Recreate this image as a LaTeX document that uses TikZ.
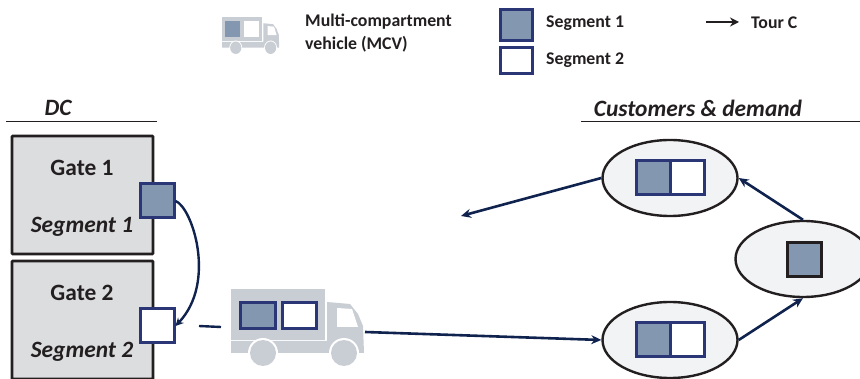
\documentclass[tikz,border=0pt]{standalone}
\usepackage{fontspec}
\setmainfont{Carlito}
\usetikzlibrary{arrows.meta,shapes.geometric}
\definecolor{navy}{HTML}{10234F}
\definecolor{segb}{HTML}{2A3675}
\definecolor{segf}{HTML}{8497B0}
\definecolor{ink}{HTML}{231F20}
\definecolor{gatef}{HTML}{DCDDDF}
\definecolor{ellf}{HTML}{F2F3F5}
\definecolor{truckc}{HTML}{C9CDD4}
\tikzset{
  gatebox/.style={draw=ink,fill=gatef,line width=2.6pt,minimum width=141pt,minimum height=118pt,inner sep=0,rounded corners=0.6pt},
  cust/.style={ellipse,draw=ink,fill=ellf,line width=2.4pt,minimum width=135pt,minimum height=76pt,inner sep=0},
  segone/.style={draw=segb,fill=segf,line width=3pt,minimum width=34pt,minimum height=34pt,inner sep=0},
  segtwo/.style={draw=segb,fill=white,line width=3pt,minimum width=34pt,minimum height=34pt,inner sep=0},
  custone/.style={draw=ink,fill=segf,line width=3pt,minimum width=34pt,minimum height=34pt,inner sep=0},
  tour/.style={draw=navy,line width=2.6pt,-{Stealth[length=10pt,width=9pt]}},
  big/.style={font=\fontsize{23.4}{28}\selectfont\bfseries,text=ink,inner sep=0},
  head/.style={font=\fontsize{23.4}{28}\selectfont\bfseries\itshape,text=ink,inner sep=0},
  small/.style={font=\fontsize{17.8}{22}\selectfont\bfseries,text=ink,inner sep=0,anchor=west},
  rulel/.style={draw=ink,line width=1pt},
}
% truck drawn in a 133 x 77 box, origin at its top left
\newcommand{\trucksil}{%
  \fill[truckc] (0,0) rectangle (94,51);
  \fill[truckc] (96,13) -- (119,15) -- (127,25) -- (132,37) -- (133,64) -- (0,64) -- (0,52) -- (96,52) -- cycle;
  \fill[white] (106,19) -- (121,20) -- (127,38) -- (106,38) -- cycle;
  \fill[white] (32,64) circle (15) (113,64) circle (15);
  \fill[truckc] (32,64) circle (13) (113,64) circle (13);
}
\begin{document}
\begin{tikzpicture}[x=1pt,y=-1pt]
\clip (0,0) rectangle (860,379);
% legend
\begin{scope}[shift={(222,17)},x=0.43pt,y=-0.48pt]
  \trucksil
  \fill[segf] (6,8) -- (41,8) -- (41,42) -- (6,42) -- cycle;
  \fill[white] (52,8) -- (87,8) -- (87,42) -- (52,42) -- cycle;
\end{scope}
\node[small] (lmcvA) at (305,22) {Multi-compartment};
\node[small] (lmcvB) at (305,44) {vehicle (MCV)};
\node[segone,minimum width=32pt,minimum height=31pt] (lone) at (516,25) {};
\node[segtwo,minimum width=32pt,minimum height=26pt] (ltwo) at (516,61) {};
\node[small] (lonet) at (546,23) {Segment 1};
\node[small] (ltwot) at (546,60) {Segment 2};
\coordinate (tourA) at (706,22);
\coordinate (tourB) at (739,22);
\draw[draw=ink,line width=2.6pt,-{Stealth[length=9pt,width=9pt]}] (tourA) -- (tourB);
\node[small] (tourt) at (751,23) {Tour C};
% headings
\node[head] (dc) at (58,108) {DC};
\node[head] (cd) at (698,108) {Customers \& demand};
\coordinate (rA) at (6,122); \coordinate (rB) at (157,122);
\coordinate (rC) at (581,122); \coordinate (rD) at (860,122);
\draw[rulel] (rA) -- (rB);
\draw[rulel] (rC) -- (rD);
% gates
\node[gatebox] (g1) at (82.5,195) {};
\node[gatebox] (g2) at (82.5,320) {};
\node[big] (g1t) at (82,168) {Gate 1};
\node[head] (g1s) at (82,227) {Segment 1};
\node[big] (g2t) at (82,293) {Gate 2};
\node[head] (g2s) at (82,352) {Segment 2};
\node[segone] (s1) at (157,201) {};
\node[segtwo] (s2) at (157,326) {};
\draw[draw=navy,line width=2.4pt,-{Stealth[length=8pt,width=8pt]}] (s1.east) .. controls (192,207) and (217,282) .. (s2.east);
% truck
\begin{scope}[shift={(231,289)}]
  \trucksil
\end{scope}
\node[segone,minimum width=35pt,minimum height=26pt] (ts1) at (258,316) {};
\node[segtwo,minimum width=34pt,minimum height=26pt] (ts2) at (299,316) {};
\coordinate (truckR) at (365,332);
\coordinate (dashA) at (199,326);
\coordinate (dashB) at (221,327);
\draw[draw=navy,line width=2.4pt] (dashA) -- (dashB);
% customers
\node[cust] (e1) at (670,178) {};
\node[cust] (e2) at (670,340) {};
\node[cust] (e3) at (803,259) {};
\node[segone] (e1a) at (653,178) {};
\node[segtwo] (e1b) at (687,178) {};
\node[segone] (e2a) at (653,340) {};
\node[segtwo] (e2b) at (687,340) {};
\node[custone] (e3a) at (804,259.5) {};
\coordinate (ret) at (461,216);
\draw[tour] (truckR) -- (e2.west);
\draw[tour] (e2.east) -- (e3.south);
\draw[tour] (e3.north) -- (e1.east);
\draw[tour] (e1.west) -- (ret);
\end{tikzpicture}
\end{document}
